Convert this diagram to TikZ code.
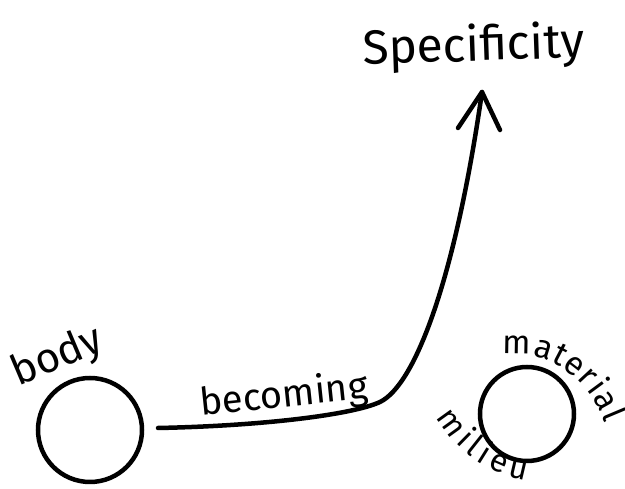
\documentclass[tikz,border=0pt]{standalone}
\usepackage{fontspec}
\setmainfont{Fira Sans}
\usetikzlibrary{decorations.text}
\newcommand\hwsize[1]{\fontsize{#1}{#1}\selectfont}
\tikzset{
  ink/.style={line width=4.5pt, line cap=round, line join=round, black},
  blob/.style={circle, draw, line width=4.5pt, inner sep=0pt},
  hw/.style={inner sep=0pt, anchor=base, font=\hwsize{#1}},
}
\begin{document}
\begin{tikzpicture}[x=1pt,y=1pt]
\useasboundingbox (0,0) rectangle (625,489);
% circles
\node[blob, minimum size=104pt] (body) at (90,59) {};
\node[blob, minimum size=94pt] (milieu) at (527,75) {};
% labels
\node[hw=42, rotate=23] (bodylbl) at (62,121) {body};
\node[hw=38, rotate=6] (becoming) at (285,82) {becoming};
\node[hw=48, rotate=2] (spec) at (474,428) {Specificity};
% curved labels around the material milieu circle
\path[decorate, decoration={text along path, text align={fit to path},
  text={|\hwsize{33}|material}}]
  (503,134) .. controls (545,140) and (586,116) .. (605,66);
\path[decorate, decoration={text along path, text align={fit to path},
  text={|\hwsize{32}|milieu}}]
  (436,72) .. controls (452,44) and (482,16) .. (526,9);
% becoming curve
\coordinate (start) at (158,61);
\coordinate (joint) at (380,87);
\coordinate (tip) at (482,397);
\coordinate (barbL) at (458,361);
\coordinate (barbR) at (500,359);
\draw[ink] (start) .. controls (260,63) and (352,74) .. (joint)
  .. controls (415,104) and (455,209) .. (tip);
\draw[ink] (barbL) -- (tip) -- (barbR);
\end{tikzpicture}
\end{document}
